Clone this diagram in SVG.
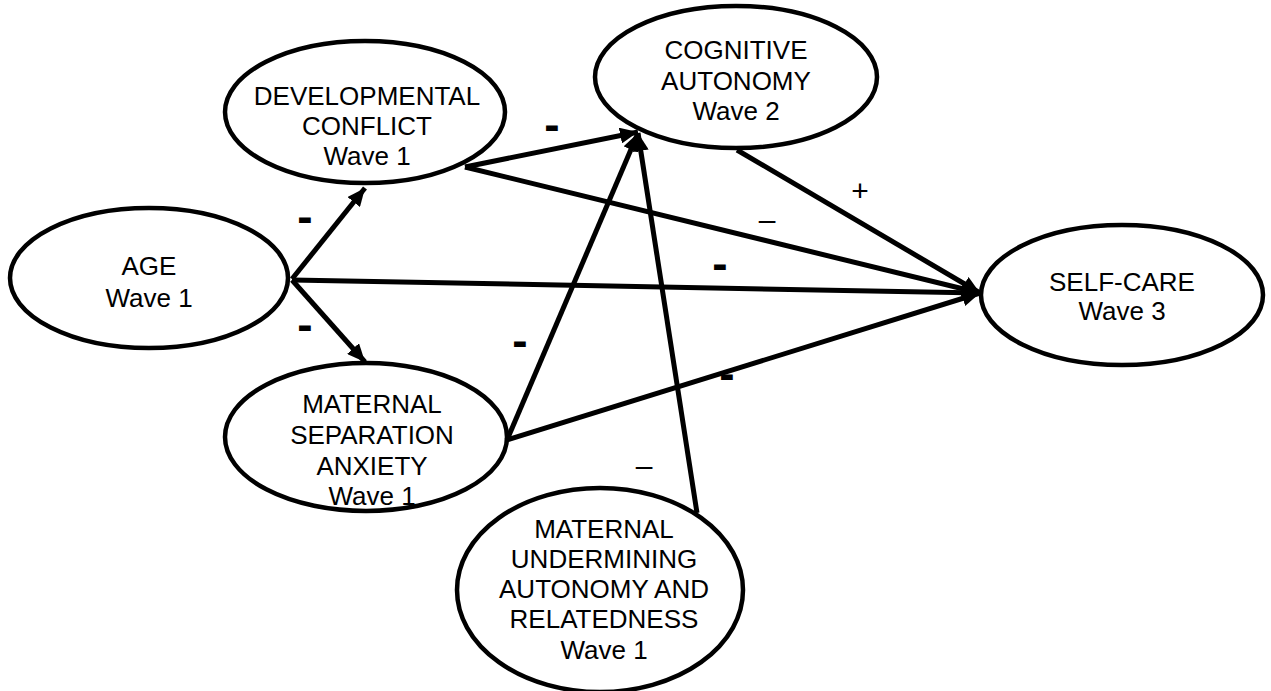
<svg xmlns="http://www.w3.org/2000/svg" width="1271" height="691" viewBox="0 0 1271 691">
<defs>
<style>
.node ellipse{fill:#fff;stroke:#000;stroke-width:4.5}
.node text{font-family:"Liberation Sans",Arial,sans-serif;font-size:26px;fill:#000;text-anchor:middle}
.conn line{stroke:#000;stroke-width:5;marker-end:url(#arr)}
.lbl{font-family:"Liberation Sans",Arial,sans-serif;fill:#000;text-anchor:middle}
.bd{font-size:46px;font-weight:bold}
.th{font-size:30px}
</style>
<marker id="arr" markerUnits="userSpaceOnUse" markerWidth="18" markerHeight="16" viewBox="0 0 18 16" refX="18" refY="8" orient="auto">
<path d="M0,0 L18,8 L0,16 z" fill="#000"/>
</marker>
</defs>
<rect width="1271" height="691" fill="#fff"/>
<g id="labels-under">
<text class="lbl bd" x="727" y="389">-</text>
</g>
<g id="age" class="node">
<ellipse cx="149" cy="278" rx="139" ry="70"/>
<text x="149" y="275">AGE</text>
<text x="149" y="307">Wave 1</text>
</g>
<g id="devconflict" class="node">
<ellipse cx="365" cy="112" rx="140" ry="71"/>
<text x="367" y="105">DEVELOPMENTAL</text>
<text x="367" y="135">CONFLICT</text>
<text x="367" y="165">Wave 1</text>
</g>
<g id="cogautonomy" class="node">
<ellipse cx="736" cy="77" rx="141" ry="71"/>
<text x="736" y="59">COGNITIVE</text>
<text x="736" y="90">AUTONOMY</text>
<text x="736" y="120">Wave 2</text>
</g>
<g id="sepanxiety" class="node">
<ellipse cx="366" cy="437" rx="141" ry="74"/>
<text x="372" y="413">MATERNAL</text>
<text x="372" y="444">SEPARATION</text>
<text x="372" y="475">ANXIETY</text>
<text x="372" y="505">Wave 1</text>
</g>
<g id="undermining" class="node">
<ellipse cx="600" cy="590" rx="143" ry="102"/>
<text x="604" y="538">MATERNAL</text>
<text x="604" y="568">UNDERMINING</text>
<text x="604" y="598">AUTONOMY AND</text>
<text x="604" y="628">RELATEDNESS</text>
<text x="604" y="659">Wave 1</text>
</g>
<g id="selfcare" class="node">
<ellipse cx="1122" cy="295" rx="141" ry="70"/>
<text x="1122" y="291">SELF-CARE</text>
<text x="1122" y="320">Wave 3</text>
</g>
<g id="connectors" class="conn">
<line x1="292" y1="279" x2="365" y2="188"/>
<line x1="292" y1="280" x2="365" y2="362"/>
<line x1="292" y1="280" x2="980" y2="293"/>
<line x1="465" y1="167" x2="638" y2="132"/>
<line x1="465" y1="167" x2="980" y2="293"/>
<line x1="737" y1="150" x2="980" y2="293"/>
<line x1="507" y1="440" x2="638" y2="133"/>
<line x1="507" y1="440" x2="980" y2="293"/>
<line x1="697" y1="513" x2="638" y2="133"/>
</g>
<g id="labels">
<text class="lbl bd" x="305" y="232">-</text>
<text class="lbl bd" x="305" y="340">-</text>
<text class="lbl bd" x="552" y="140">-</text>
<text class="lbl bd" x="720" y="279">-</text>
<text class="lbl bd" x="520" y="356">-</text>
<text class="lbl th" x="767" y="230">–</text>
<text class="lbl th" x="644" y="476">–</text>
<text class="lbl th" x="860" y="201">+</text>
</g>
</svg>
